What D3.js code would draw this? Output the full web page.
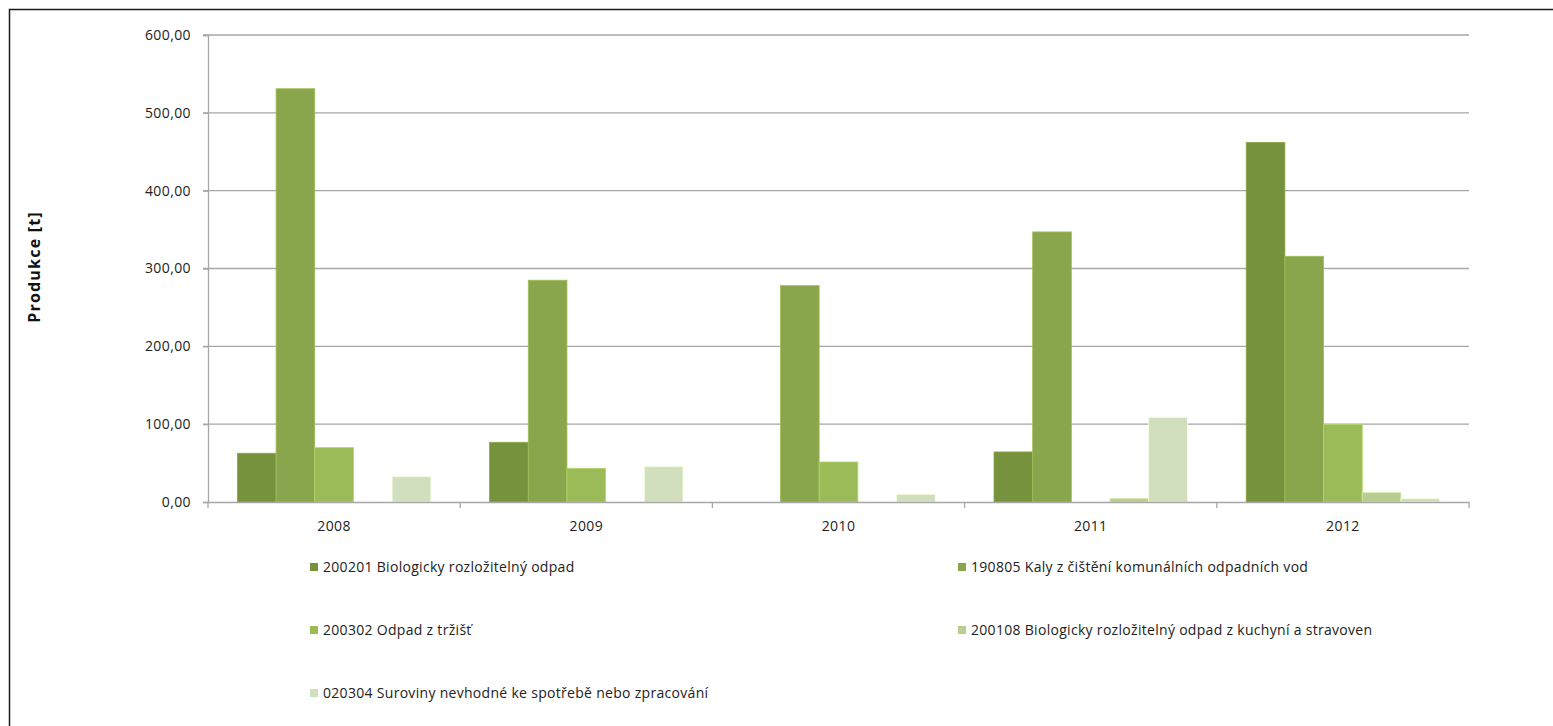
<!DOCTYPE html>
<html>
<head>
<meta charset="utf-8">
<script src="https://cdn.jsdelivr.net/npm/d3@7"></script>
<style>
  html, body { margin: 0; padding: 0; background: #fff; }
  svg { display: block; font-family: "Open Sans", sans-serif; }
</style>
</head>
<body>
<div id="chart"></div>
<script>
// produkce odpadu po letech
const years = ['2008', '2009', '2010', '2011', '2012'];
const seriesNames = [
  '200201 Biologicky rozložitelný odpad',
  '190805 Kaly z čištění komunálních odpadních vod',
  '200302 Odpad z tržišť',
  '200108 Biologicky rozložitelný odpad z kuchyní a stravoven',
  '020304 Suroviny nevhodné ke spotřebě nebo zpracování'
];
const s200201 = [62.6, 76.7, 0, 64.3, 462];
const s190805 = [531, 285, 278, 347, 315.7];
const s200302 = [69.8, 43.3, 51.4, 0, 99.4];
const s200108 = [0, 0, 0, 4.3, 12];
const s020304 = [32.5, 45.4, 9.9, 108.8, 4.3];
const yTicks = [0, 100, 200, 300, 400, 500, 600];
const colors = ['#76923c', '#8aa64d', '#9bbb59', '#b9cd93', '#d2dfbf'];

const allSeries = [s200201, s190805, s200302, s200108, s020304];

const W = 1553, H = 726;
const M = { top: 35, right: 84, bottom: 224, left: 208 };
const innerW = W - M.left - M.right;
const innerH = H - M.top - M.bottom;

const svg = d3.select('#chart').append('svg').attr('width', W).attr('height', H);

// vnější rámeček
svg.append('rect')
  .attr('x', 9.5).attr('y', 9.5).attr('width', W + 20).attr('height', H + 20)
  .attr('fill', 'none').attr('stroke', '#1a1a1a').attr('stroke-width', 1.5);

const inner = svg.append('g').attr('transform', `translate(${M.left},${M.top})`);

const x = d3.scaleBand().domain(years).range([0, innerW]).padding(0);
const xs = d3.scaleBand().domain(d3.range(seriesNames.length))
  .range([0, x.bandwidth()]).paddingOuter(0.76).paddingInner(0);
const y = d3.scaleLinear().domain([0, 600]).range([innerH, 0]);

const fmtY = d => d3.format('.2f')(d).replace('.', ',');

// mřížka
inner.append('g').selectAll('line').data(yTicks.filter(t => t > 0)).join('line')
  .attr('x1', -5).attr('x2', innerW)
  .attr('y1', d => y(d)).attr('y2', d => y(d))
  .attr('stroke', '#a6a6a6').attr('stroke-width', 1.3);

// osa y
const yAxis = inner.append('g')
  .call(d3.axisLeft(y).tickValues(yTicks).tickFormat(fmtY).tickSize(5).tickPadding(12));
yAxis.select('.domain').attr('stroke', '#a6a6a6').attr('stroke-width', 1.3);
yAxis.selectAll('.tick line').attr('stroke', '#a6a6a6').attr('stroke-width', 1.3);
yAxis.selectAll('text').attr('font-size', 14).attr('fill', '#222')
  .attr('font-family', '"Open Sans", sans-serif').attr('letter-spacing', 0.4);

// sloupce
const groups = inner.append('g').selectAll('g').data(years).join('g')
  .attr('transform', d => `translate(${x(d)},0)`);
groups.selectAll('rect')
  .data((yr, i) => allSeries.map((s, k) => ({ k, v: s[i] })).filter(d => d.v > 0))
  .join('rect')
  .attr('x', d => xs(d.k))
  .attr('width', xs.bandwidth())
  .attr('y', d => y(d.v))
  .attr('height', d => y(0) - y(d.v))
  .attr('fill', d => colors[d.k])
  .attr('stroke', d => d3.color(colors[d.k]).brighter(0.4))
  .attr('stroke-width', 0.8);

// osa x
const xAxis = inner.append('g').attr('transform', `translate(0,${innerH})`)
  .call(d3.axisBottom(x).tickSize(0).tickPadding(19));
xAxis.select('.domain').attr('stroke', '#a6a6a6').attr('stroke-width', 1.3);
xAxis.selectAll('text').attr('font-size', 14).attr('fill', '#222')
  .attr('font-family', '"Open Sans", sans-serif').attr('letter-spacing', 0.4);
inner.append('g').selectAll('line').data(d3.range(years.length + 1)).join('line')
  .attr('x1', i => i * x.bandwidth()).attr('x2', i => i * x.bandwidth())
  .attr('y1', innerH).attr('y2', innerH + 6)
  .attr('stroke', '#a6a6a6').attr('stroke-width', 1.3);

// popisek osy y
svg.append('text')
  .attr('transform', 'translate(40,267) rotate(-90)')
  .attr('text-anchor', 'middle')
  .attr('font-size', 16).attr('font-weight', 'bold').attr('fill', '#111')
  .attr('letter-spacing', 1.2)
  .attr('font-family', '"Open Sans", sans-serif')
  .text('Produkce [t]');

// legenda
const legX = [310, 958];
const legY = [567, 630, 693];
const leg = svg.append('g').selectAll('g').data(seriesNames).join('g')
  .attr('transform', (d, i) => `translate(${legX[i % 2]},${legY[Math.floor(i / 2)]})`);
leg.append('rect').attr('x', 0).attr('y', -4).attr('width', 8).attr('height', 8)
  .attr('fill', (d, i) => colors[i]);
leg.append('text').attr('x', 13).attr('dy', '0.35em')
  .attr('font-size', 14).attr('fill', '#222').attr('letter-spacing', 0.3)
  .attr('font-family', '"Open Sans", sans-serif')
  .text(d => d);
</script>
</body>
</html>
